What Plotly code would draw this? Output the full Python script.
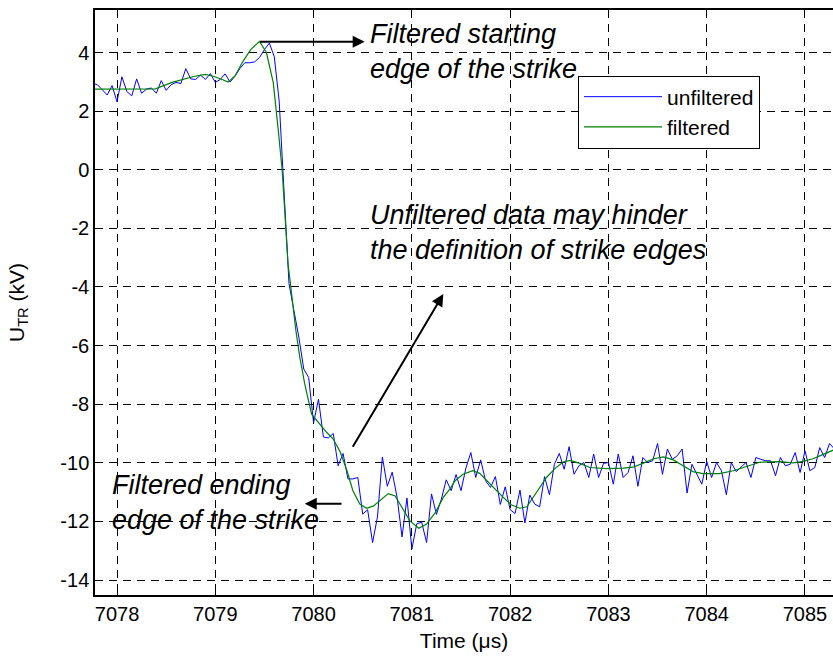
import numpy as np
import plotly.graph_objects as go

# ---------------- data ----------------
t0 = 7077.75
dt = 0.05
unfiltered = [
    2.95, 2.90, 2.73, 2.55, 2.87, 2.32, 3.17, 2.67, 2.52, 3.10,
    2.61, 2.75, 2.79, 2.61, 3.04, 2.71, 2.90, 2.98, 2.94, 3.45,
    3.10, 3.08, 3.23, 3.08, 3.28, 2.98, 3.08, 3.27, 2.99, 3.19,
    3.45, 3.65, 3.65, 3.68, 3.83, 4.10, 4.32, 3.86, 2.34, -1.00,
    -3.89, -4.80, -5.71, -6.80, -7.09, -8.63, -7.83, -9.12, -9.15, -9.00,
    -10.10, -9.68, -10.55, -10.55, -10.50, -11.75, -11.60, -12.72, -11.85, -9.80,
    -10.80, -10.32, -11.18, -12.53, -11.20, -12.94, -12.08, -12.03, -12.72, -11.06,
    -11.76, -11.24, -10.58, -10.95, -10.40, -10.95, -10.18, -9.65, -10.50, -9.90,
    -10.61, -10.84, -10.47, -11.42, -10.82, -11.60, -11.73, -10.93, -12.05, -11.10,
    -11.41, -11.50, -10.47, -11.09, -10.05, -9.68, -10.22, -9.45, -10.39, -10.10,
    -9.99, -10.50, -9.70, -10.50, -10.02, -9.99, -10.73, -9.70, -10.50, -10.33,
    -9.76, -10.80, -9.82, -9.99, -9.93, -9.34, -10.39, -9.53, -9.88, -9.76,
    -9.53, -11.03, -10.05, -10.39, -10.73, -9.95, -10.50, -9.99, -10.27, -11.09,
    -9.99, -10.30, -10.14, -9.99, -10.50, -9.82, -9.88, -9.93, -9.93, -10.44,
    -9.82, -10.10, -10.05, -9.65, -10.33, -9.59, -10.27, -10.16, -9.48, -9.82,
    -9.34, -9.53,
]
t_unf = [round(t0 + dt * i, 2) for i in range(len(unfiltered))]

t_filt = [
    7077.75, 7078.08, 7078.39, 7078.56, 7078.69, 7078.79, 7078.90, 7078.98, 7079.07, 7079.13,
    7079.20, 7079.28, 7079.36, 7079.45, 7079.52, 7079.59, 7079.64, 7079.68, 7079.71, 7079.74,
    7079.78, 7079.82, 7079.86, 7079.91, 7079.98, 7080.07, 7080.13, 7080.20, 7080.27, 7080.34,
    7080.40, 7080.47, 7080.54, 7080.61, 7080.69, 7080.76, 7080.83, 7080.90, 7080.98, 7081.07,
    7081.15, 7081.24, 7081.32, 7081.39, 7081.44, 7081.52, 7081.62, 7081.69, 7081.76, 7081.85,
    7081.93, 7082.01, 7082.10, 7082.17, 7082.23, 7082.30, 7082.37, 7082.46, 7082.54, 7082.61,
    7082.71, 7082.81, 7082.98, 7083.15, 7083.25, 7083.35, 7083.46, 7083.56, 7083.66, 7083.76,
    7083.86, 7083.96, 7084.13, 7084.27, 7084.41, 7084.54, 7084.74, 7084.88, 7084.98, 7085.08,
    7085.18, 7085.30,
]
filtered = [
    2.75, 2.75, 2.76, 2.98, 3.10, 3.19, 3.25, 3.19, 3.08, 2.99,
    3.20, 3.69, 4.10, 4.38, 4.00, 2.97, 1.37, 0.00, -1.60, -3.20,
    -4.34, -5.49, -6.40, -7.31, -8.34, -8.72, -8.95, -9.19, -9.62, -10.27,
    -10.95, -11.41, -11.55, -11.47, -11.24, -11.05, -11.13, -11.52, -11.98, -12.23,
    -12.09, -11.69, -11.18, -10.88, -10.61, -10.39, -10.27, -10.36, -10.61, -10.90,
    -11.18, -11.43, -11.55, -11.50, -11.20, -10.88, -10.50, -10.18, -9.97, -9.92,
    -10.02, -10.16, -10.20, -10.18, -10.15, -10.02, -9.86, -9.80, -9.90, -10.10,
    -10.30, -10.37, -10.37, -10.27, -10.12, -9.98, -9.96, -10.00, -9.95, -9.86,
    -9.72, -9.55,
]

x_ticks = [7078, 7079, 7080, 7081, 7082, 7083, 7084, 7085]
y_ticks = [-14, -12, -10, -8, -6, -4, -2, 0, 2, 4]
y_ticktext = [str(v) for v in y_ticks]
x_ticktext = [str(v) for v in x_ticks]

FONT = "Liberation Sans"

fig = go.Figure()
fig.add_trace(go.Scatter(x=t_unf, y=unfiltered, mode="lines", name="unfiltered",
                         line=dict(color="#0000ff", width=1)))
fig.add_trace(go.Scatter(x=t_filt, y=filtered, mode="lines", name="filtered",
                         line=dict(color="#008000", width=1.2)))

axis_common = dict(
    showgrid=True, gridcolor="black", gridwidth=1, griddash="8px,6px",
    showline=True, linecolor="black", linewidth=1.5,
    ticks="inside", ticklen=6, tickcolor="black", tickwidth=1,
    tickfont=dict(family=FONT, size=20, color="black"),
    zeroline=False,
)

fig.update_layout(
    width=833, height=657,
    margin=dict(l=95, r=0, t=10, b=62),
    paper_bgcolor="white", plot_bgcolor="white",
    font=dict(family=FONT, color="black"),
    xaxis=dict(range=[7077.776, 7085.285], tickvals=x_ticks, ticktext=x_ticktext,
               mirror="ticks",
               title=dict(text="Time (μs)", font=dict(family=FONT, size=21), standoff=10),
               **axis_common),
    yaxis=dict(range=[-14.51, 5.45], tickvals=y_ticks, ticktext=y_ticktext,
               mirror=False,
               title=dict(text="U<sub>TR</sub> (kV)", font=dict(family=FONT, size=21), standoff=30),
               **axis_common),
    showlegend=True,
    legend=dict(x=0.6545, y=0.888, xanchor="left", yanchor="top",
                bordercolor="black", borderwidth=1, bgcolor="white",
                font=dict(family=FONT, size=21, color="black"),
                itemwidth=78, tracegroupgap=0),
)

arrows = [
    dict(x=7080.52, y=4.37, ax=7079.44, ay=4.37),
    dict(x=7081.32, y=-4.24, ax=7080.39, ay=-9.50),
    dict(x=7079.91, y=-11.40, ax=7080.30, ay=-11.40),
]
for a in arrows:
    fig.add_annotation(x=a["x"], y=a["y"], ax=a["ax"], ay=a["ay"],
                       xref="x", yref="y", axref="x", ayref="y",
                       text="", showarrow=True, arrowhead=2, arrowsize=1.2,
                       arrowwidth=2, arrowcolor="black")

texts = [
    dict(x=7080.55, y=4.05, text="<i>Filtered starting<br>edge of the strike</i>"),
    dict(x=7080.55, y=-2.14, text="<i>Unfiltered data may hinder<br>the definition of strike edges</i>"),
    dict(x=7077.93, y=-11.34, text="<i>Filtered ending<br>edge of the strike</i>"),
]
for tx in texts:
    fig.add_annotation(x=tx["x"], y=tx["y"], xref="x", yref="y", text=tx["text"],
                       showarrow=False, xanchor="left", yanchor="middle", align="left",
                       font=dict(family=FONT, size=27, color="black"))

fig.write_html("out.html")
